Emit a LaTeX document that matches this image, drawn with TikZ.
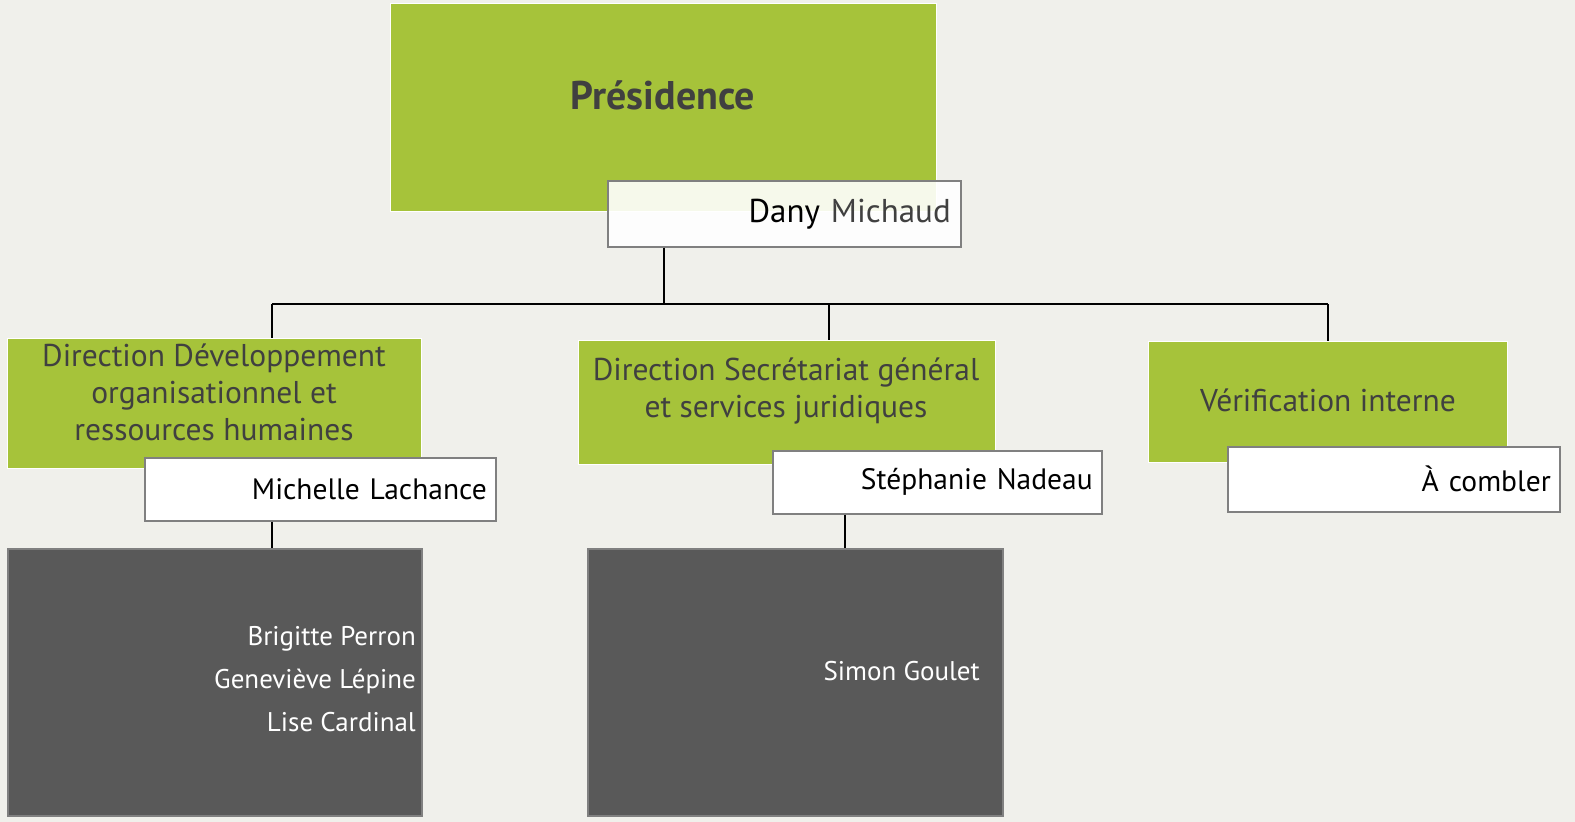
\documentclass[tikz,border=0pt]{standalone}
\usepackage{fontspec}
\setmainfont{PT Sans}
\definecolor{bgc}{HTML}{F0F0EB}
\definecolor{pgreen}{HTML}{A6C33A}
\definecolor{tgray}{HTML}{404040}
\definecolor{bgray}{HTML}{808080}
\definecolor{dgray}{HTML}{595959}
\newcommand{\greenfont}{\fontsize{31.5}{37}\selectfont}
\newcommand{\namefont}{\fontsize{29.5}{35}\selectfont}
\newcommand{\darkfont}{\fontsize{27}{43}\selectfont}
\begin{document}
\begin{tikzpicture}[x=1pt,y=-1pt,
  gbox/.style={draw=white, line width=1.3pt, fill=pgreen, inner sep=0pt, anchor=north west},
  gtext/.style={text=tgray, font=\greenfont, align=center, inner sep=0pt},
  namebox/.style={draw=bgray, line width=1.5pt, fill=white,
    inner ysep=0pt, inner xsep=9pt, anchor=north west, align=right, font=\namefont, text=black},
  dbox/.style={draw=bgray, line width=1.5pt, fill=dgray, inner sep=0pt, anchor=north west},
  dtext/.style={text=white, font=\darkfont, align=right, inner sep=0pt},
  conn/.style={draw=black, line width=2pt}]
\fill[bgc] (0,0) rectangle (1575,822);
\useasboundingbox (0,0) rectangle (1575,822);
% coordinates for the connector bus
\coordinate (busL) at (272,304);
\coordinate (busM) at (829,304);
\coordinate (busR) at (1328,304);
\coordinate (sub2) at (845,530);
% top
\node[gbox, minimum width=546pt, minimum height=208pt] (pres) at (390,3) {};
\node[gtext, font=\fontsize{40}{48}\selectfont\bfseries] (pres-t) at (663,95) {Présidence};
\node[namebox, fill opacity=0.9, text opacity=1, minimum height=66pt, text width=333pt, inner xsep=10pt, font=\fontsize{33}{40}\selectfont] (dany) at (607,180) {Dany \textcolor{tgray}{Michaud}};
% level 2
\node[gbox, minimum width=414pt, minimum height=130pt] (ddo) at (7,338) {};
\node[gtext] (ddo-t) at (214,392) {Direction Développement\\organisationnel et\\ressources humaines};
\node[gbox, minimum width=417pt, minimum height=124pt] (dsg) at (578,340) {};
\node[gtext] (dsg-t) at (786,391) {Direction Secrétariat général\\et services juridiques};
\node[gbox, minimum width=359pt, minimum height=121pt] (vi) at (1148,341) {};
\node[gtext] (vi-t) at (1328,400) {Vérification interne};
\node[namebox, minimum height=63pt, text width=333pt] (mich) at (144,457) {Michelle Lachance};
\node[namebox, minimum height=63pt, text width=311pt] (steph) at (772,450) {Stéphanie Nadeau};
\node[namebox, minimum height=65pt, text width=314pt] (comb) at (1227,446) {À combler};
% level 3
\node[dbox, minimum width=414pt, minimum height=267pt] (d1) at (7,548) {};
\node[dtext, anchor=east] (d1-t) at (416,679) {Brigitte Perron\\Geneviève Lépine\\Lise Cardinal};
\node[dbox, minimum width=415pt, minimum height=267pt] (d2) at (587,548) {};
\node[dtext, anchor=east] (d2-t) at (980,671) {Simon Goulet};
% connectors
\draw[conn] (pres.south |- dany.south) -- (pres.south |- busL);
\draw[conn] (busL) -- (busR);
\draw[conn] (busL) -- (busL |- ddo.north);
\draw[conn] (busM) -- (busM |- dsg.north);
\draw[conn] (busR) -- (busR |- vi.north);
\draw[conn] (busL |- mich.south) -- (busL |- d1.north);
\draw[conn] (sub2 |- steph.south) -- (sub2 |- d2.north);
\end{tikzpicture}
\end{document}
